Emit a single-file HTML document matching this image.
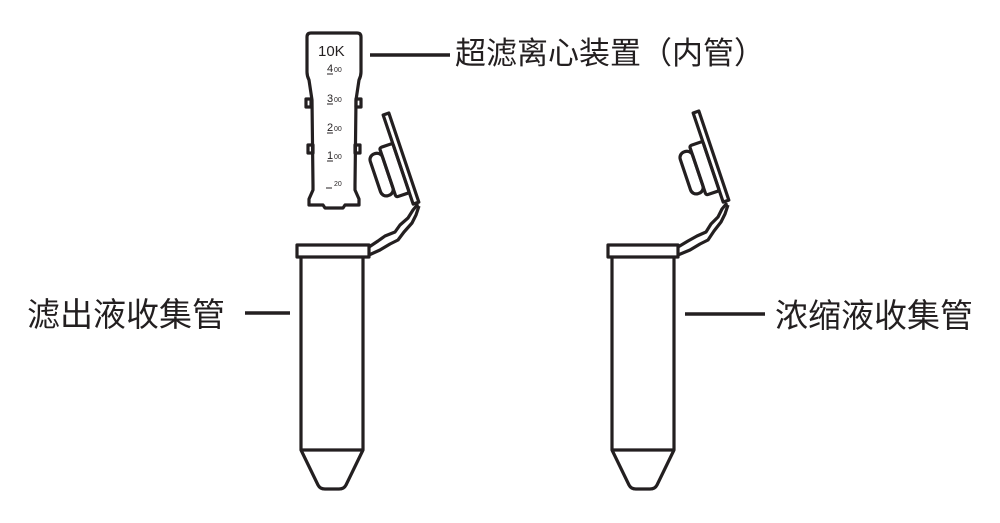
<!DOCTYPE html>
<html><head><meta charset="utf-8"><style>
html,body{margin:0;padding:0;background:#fff;width:1000px;height:523px;overflow:hidden}
text{font-family:"Liberation Sans","Noto Sans CJK SC",sans-serif;fill:#231f20}
</style></head><body>
<svg width="1000" height="523" viewBox="0 0 1000 523" xmlns="http://www.w3.org/2000/svg">
<g fill="none" stroke="#231f20" stroke-width="3.2" stroke-linejoin="round">
<!-- Tube 1 -->
<rect x="297" y="245" width="72" height="12"/>
<path d="M301 257 V450 L318 485 Q320 489 325 489 H339 Q344 489 346 485 L363 450 V257"/>
<line x1="301" y1="450" x2="363" y2="450"/>
<path d="M369 247 L378 241 L385 236 L395 232 L400 225 L408 218 L413 210 L418 204"/>
<path d="M369 255 L380 250 L390 244 L398 240 L404 232 L412 223 L416 215 L419 206"/>
<g transform="translate(386,114) rotate(71.4)">
<rect x="0" y="-3" width="94" height="6"/>
<rect x="30" y="3" width="52" height="14" rx="2"/>
<rect x="34" y="17" width="44" height="13" rx="6"/>
</g>
<!-- Tube 2 -->
<rect x="608" y="245" width="70" height="12"/>
<path d="M612 257 V450 L629 485 Q631 489 636 489 H650 Q655 489 657 485 L674 450 V257"/>
<line x1="612" y1="450" x2="674" y2="450"/>
<path d="M678 247 L688 241 L697 236 L706 232 L711 224 L718 217 L722 209 L727 203"/>
<path d="M678 255 L690 250 L700 244 L708 240 L714 231 L721 222 L725 214 L728 205"/>
<g transform="translate(696,112) rotate(71.4)">
<rect x="0" y="-3" width="94" height="6"/>
<rect x="30" y="3" width="52" height="14" rx="2"/>
<rect x="34" y="17" width="44" height="13" rx="6"/>
</g>
<!-- inner tube -->
<path d="M311 33 H357 Q361 33 361 37 V72 Q361 76 359 80 L356 100 L355 185 L355 190 L359 199 V205 H345 L343 208 H325 L323 205 H309 V199 L313 190 L313 185 L312 100 L309 80 Q307 76 307 72 V37 Q307 33 311 33 Z"/>
<rect x="306" y="99" width="5" height="8"/>
<rect x="356" y="99" width="5" height="8"/>
<rect x="308" y="145" width="5" height="8"/>
<rect x="355" y="145" width="5" height="8"/>
</g>
<g stroke="#231f20" stroke-width="3.5">
<line x1="370" y1="55" x2="450" y2="55"/>
<line x1="245" y1="313" x2="290" y2="313"/>
<line x1="685" y1="314" x2="765" y2="314"/>
</g>
<g stroke="#231f20" stroke-width="1">
<line x1="327" y1="74" x2="333" y2="74"/><line x1="327" y1="104" x2="333" y2="104"/>
<line x1="327" y1="133" x2="333" y2="133"/><line x1="327" y1="161" x2="333" y2="161"/>
<line x1="326" y1="188" x2="332" y2="188"/>
</g>
<text x="318" y="56" font-size="15">10K</text>
<g font-size="11"><text x="327" y="72">4</text><text x="327" y="102">3</text><text x="327" y="131">2</text><text x="327" y="159">1</text></g>
<g font-size="7"><text x="334" y="72">00</text><text x="334" y="102">00</text><text x="334" y="131">00</text><text x="334" y="159">00</text><text x="334" y="186">20</text></g>
<text x="455" y="64" font-size="31">超滤离心装置（内管）</text>
<text x="27" y="326" font-size="33">滤出液收集管</text>
<text x="775" y="327" font-size="33">浓缩液收集管</text>
</svg>
</body></html>
